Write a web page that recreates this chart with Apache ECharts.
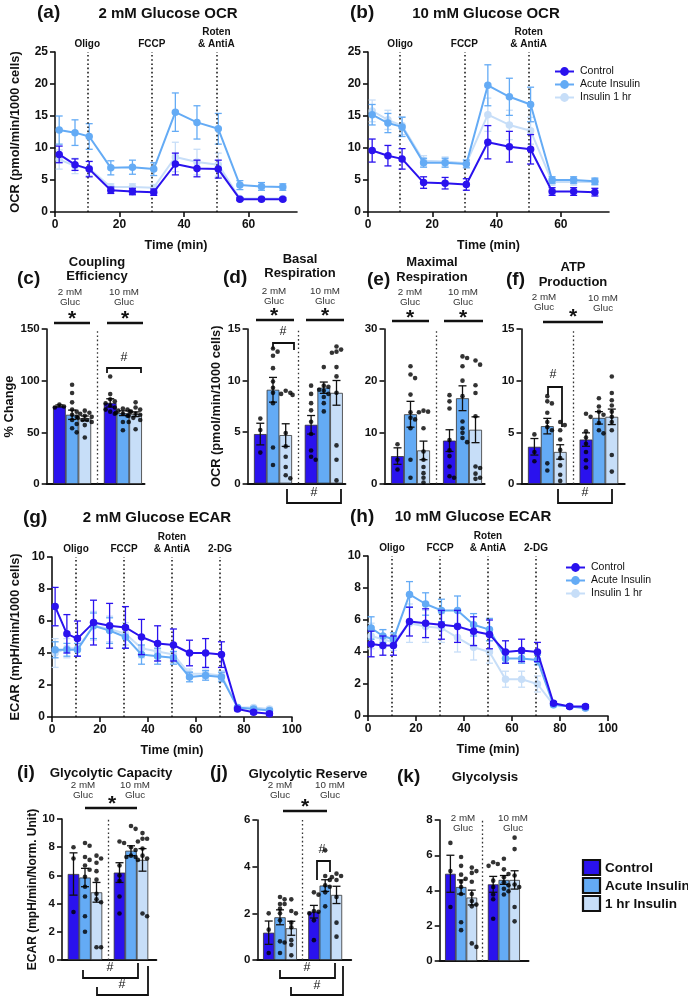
<!DOCTYPE html>
<html><head><meta charset="utf-8">
<script src="https://cdn.jsdelivr.net/npm/echarts@6/dist/echarts.min.js"></script>
<style>html,body{margin:0;padding:0;background:#fff}#c{width:688px;height:999px}</style>
</head><body><div id="c"></div>
<script>
// ================= DATA =================
const lineNames = ['Control', 'Acute Insulin', 'Insulin 1 hr'];
const barNames = ['Control', 'Acute Insulin', '1 hr Insulin'];
const glucLabels = ['2 mM\nGluc', '10 mM\nGluc'];
const timeOCR = [1.3, 6.2, 10.6, 17.3, 24, 30.6, 37.3, 44, 50.6, 57.3, 64, 70.6];
const timeECAR = [1.3, 6.2, 10.6, 17.3, 24, 30.6, 37.3, 44, 50.6, 57.3, 64, 70.6, 77.3, 84, 90.6];
const drugTimesOCR = [10, 30, 50];
const drugNamesOCR = ['Oligo', 'FCCP', 'Roten\n& AntiA'];
const drugTimesECAR = [10, 30, 50, 70];
const drugNamesECAR = ['Oligo', 'FCCP', 'Roten\n& AntiA', '2-DG'];
const ticksOCRTime = [0, 20, 40, 60];

// (a) 2 mM OCR
const ocr2Control = [9.0, 7.4, 6.7, 3.4, 3.2, 3.1, 7.5, 6.8, 6.7, 2.0, 2.0, 2.0];
const ocr2ControlErr = [1.3, 0.9, 1.2, 0.5, 0.5, 0.5, 1.7, 1.3, 1.4, 0.2, 0.2, 0.2];
const ocr2Acute = [12.8, 12.4, 11.8, 6.9, 7.0, 6.7, 15.6, 14.0, 13.0, 4.2, 4.0, 3.9];
const ocr2AcuteErr = [2.2, 2.0, 2.0, 1.1, 1.1, 1.0, 3.0, 2.6, 2.4, 0.7, 0.6, 0.5];
const ocr2Hr1 = [8.2, 7.2, 6.8, 3.9, 3.9, 3.8, 8.6, 7.8, 7.4, 2.1, 2.1, 2.1];
const ocr2Hr1Err = [1.5, 1.2, 1.1, 0.5, 0.5, 0.5, 2.3, 2.0, 1.8, 0.2, 0.2, 0.2];
// (b) 10 mM OCR
const ocr10Control = [9.6, 8.8, 8.3, 4.6, 4.5, 4.3, 10.9, 10.2, 9.8, 3.2, 3.2, 3.1];
const ocr10ControlErr = [1.8, 1.6, 1.6, 0.9, 0.9, 0.9, 2.6, 2.4, 2.3, 0.6, 0.6, 0.6];
const ocr10Acute = [15.2, 13.9, 13.3, 7.7, 7.7, 7.5, 19.8, 18.0, 16.8, 5.0, 5.0, 4.8];
const ocr10AcuteErr = [1.6, 1.5, 1.5, 0.7, 0.7, 0.6, 3.2, 2.9, 2.7, 0.5, 0.5, 0.5];
const ocr10Hr1 = [15.8, 14.4, 13.5, 8.0, 7.9, 7.6, 15.2, 13.6, 12.7, 4.7, 4.7, 4.7];
const ocr10Hr1Err = [1.7, 1.5, 1.4, 0.8, 0.7, 0.6, 2.6, 2.3, 2.1, 0.5, 0.5, 0.5];
// (g) 2 mM ECAR
const ecar2Control = [6.9, 5.2, 4.9, 5.9, 5.7, 5.6, 5.0, 4.6, 4.5, 4.0, 4.0, 3.9, 0.5, 0.3, 0.2];
const ecar2ControlErr = [1.2, 1.2, 1.1, 1.4, 1.4, 1.3, 1.1, 1.1, 1.0, 0.8, 0.9, 0.8, 0.1, 0.1, 0.1];
const ecar2Acute = [4.2, 4.2, 4.2, 5.7, 5.4, 5.0, 3.9, 3.8, 3.7, 2.5, 2.6, 2.5, 0.6, 0.5, 0.4];
const ecar2AcuteErr = [0.5, 0.4, 0.4, 0.8, 0.8, 0.7, 0.6, 0.5, 0.4, 0.3, 0.3, 0.3, 0.1, 0.1, 0.1];
const ecar2Hr1 = [4.0, 4.3, 4.3, 5.7, 5.5, 5.2, 4.3, 4.1, 3.9, 2.7, 2.7, 2.6, 0.6, 0.6, 0.5];
const ecar2Hr1Err = [0.9, 0.6, 0.5, 0.9, 0.8, 0.7, 0.6, 0.6, 0.5, 0.3, 0.3, 0.3, 0.1, 0.1, 0.1];
// (h) 10 mM ECAR
const ecar10Control = [4.5, 4.4, 4.4, 5.9, 5.8, 5.7, 5.6, 5.3, 5.1, 4.0, 4.1, 4.0, 0.8, 0.6, 0.6];
const ecar10ControlErr = [0.8, 0.6, 0.6, 0.9, 0.9, 0.9, 1.0, 0.9, 0.9, 0.7, 0.7, 0.6, 0.1, 0.1, 0.1];
const ecar10Acute = [5.5, 5.0, 4.8, 7.6, 7.0, 6.6, 6.6, 5.7, 5.4, 3.6, 3.6, 3.5, 0.7, 0.6, 0.5];
const ecar10AcuteErr = [0.7, 0.4, 0.4, 0.8, 0.7, 0.7, 0.9, 0.7, 0.7, 0.3, 0.3, 0.3, 0.1, 0.1, 0.1];
const ecar10Hr1 = [5.0, 4.8, 4.6, 5.8, 5.6, 5.5, 4.9, 4.3, 4.0, 2.3, 2.3, 2.0, 0.7, 0.6, 0.5];
const ecar10Hr1Err = [0.8, 0.6, 0.5, 1.2, 1.0, 0.9, 0.9, 0.8, 0.7, 0.5, 0.5, 0.5, 0.1, 0.1, 0.1];

// bar panels: order = 2mM Control, 2mM Acute, 2mM 1hr, 10mM Control, 10mM Acute, 10mM 1hr
const cMeans = [75.5, 67.0, 63.5, 78.5, 68.5, 67.5];
const cSem = [1.0, 4.5, 2.3, 4.0, 2.3, 2.3];
const cDots = [[77, 75, 74], [96, 88, 79, 72, 70, 67, 65, 62, 58, 54, 50], [71, 69, 68, 66, 65, 64, 62, 62, 60, 57, 45],
  [104, 87, 82, 80, 78, 76, 74, 72, 70, 68], [73, 72, 71, 70, 69, 68, 66, 60, 52], [79, 74, 72, 70, 68, 67, 66, 64, 62, 60, 53]];
const dMeans = [4.8, 9.1, 4.7, 5.7, 9.3, 8.8];
const dSem = [1.05, 1.2, 1.1, 0.9, 0.55, 1.2];
const dDots = [[6.3, 5.2, 3.0], [13.1, 12.8, 12.4, 11.2, 9.9, 9.3, 8.8, 7.8, 3.5, 1.8], [9.0, 8.8, 8.6, 8.7, 4.9, 3.6, 2.6, 1.6, 0.8, 0.5],
  [9.5, 8.7, 7.8, 7.1, 6.0, 4.8, 3.2, 2.6, 2.3], [11.3, 9.5, 9.4, 9.1, 9.0, 8.7, 8.4, 7.8, 7.0], [13.3, 13.0, 12.8, 12.7, 11.3, 10.4, 8.8, 3.7, 2.3, 0.3]];
const eMeans = [5.4, 13.5, 6.5, 8.4, 16.6, 10.5];
const eSem = [1.6, 2.5, 1.8, 2.1, 2.4, 2.5];
const eDots = [[7.7, 4.7, 2.8], [22.8, 21.2, 20.5, 17.3, 13.9, 12.8, 12.5, 10.8, 4.7, 1.2], [14.2, 13.9, 14.0, 10.8, 6.3, 4.7, 3.3, 2.1, 1.2, 0.3],
  [17.2, 16.0, 14.6, 8.5, 6.5, 5.4, 3.4, 1.5, 1.2], [24.7, 24.4, 22.8, 20.0, 17.0, 12.1, 10.8, 9.9, 8.9, 8.1], [23.9, 23.1, 19.1, 17.6, 13.1, 3.4, 3.1, 2.0, 1.0, 1.2]];
const fMeans = [3.6, 5.6, 3.1, 4.3, 6.4, 6.5];
const fSem = [0.8, 0.75, 0.7, 0.65, 0.6, 0.75];
const fDots = [[4.8, 3.1, 2.2], [8.5, 8.0, 7.8, 6.9, 6.0, 5.5, 5.2, 2.0, 1.3], [6.0, 5.7, 5.2, 4.3, 3.3, 2.5, 1.8, 0.9, 0.3],
  [6.8, 6.5, 5.1, 4.5, 3.9, 3.1, 2.3, 1.6], [8.3, 7.5, 7.0, 6.7, 5.9, 5.2, 4.9], [10.4, 8.8, 8.1, 7.6, 7.0, 6.5, 6.0, 5.2, 2.8, 1.2]];
const iMeans = [6.1, 5.85, 4.8, 6.2, 7.75, 7.1];
const iSem = [1.5, 0.65, 0.7, 0.7, 0.35, 0.8];
const iDots = [[8.0, 7.2, 3.4], [8.3, 8.1, 7.3, 7.1, 6.7, 6.4, 5.9, 5.2, 4.5, 3.1, 2.0], [7.4, 7.2, 6.9, 6.3, 5.7, 4.7, 4.3, 4.1, 0.9, 0.9],
  [8.3, 8.4, 6.7, 6.0, 5.6, 4.5, 3.3], [9.5, 9.3, 8.0, 7.8, 7.4, 7.3, 7.3, 7.1], [9.0, 8.6, 8.6, 8.4, 7.9, 7.4, 7.2, 3.3, 3.1]];
const jMeans = [1.17, 1.83, 1.36, 2.07, 3.19, 2.79];
const jSem = [0.5, 0.32, 0.3, 0.27, 0.25, 0.37];
const jDots = [[2.0, 1.3, 0.3], [2.7, 2.6, 2.4, 2.4, 2.2, 2.0, 1.7, 0.8, 0.75, 0.3], [2.6, 2.1, 2.0, 1.6, 1.4, 0.85, 0.65, 0.2],
  [2.8, 2.9, 2.1, 2.07, 2.0, 1.7, 0.85], [4.7, 3.6, 3.43, 3.2, 3.14, 2.9, 2.3], [3.7, 3.6, 3.55, 3.43, 2.7, 1.6, 1.0]];
const kMeans = [4.95, 4.2, 3.6, 4.35, 4.6, 4.6];
const kSem = [1.05, 0.4, 0.42, 0.45, 0.25, 0.52];
const kDots = [[6.7, 5.1, 3.06], [5.9, 5.4, 4.9, 4.66, 4.5, 4.2, 3.8, 2.2, 1.75], [5.3, 5.1, 5.0, 4.5, 3.8, 3.4, 3.2, 3.1, 1.0, 0.8],
  [5.6, 5.4, 5.5, 4.56, 4.2, 3.77, 3.5, 2.4], [5.8, 5.2, 4.94, 4.75, 4.47, 4.3, 4.1, 3.96, 3.77], [7.0, 6.35, 4.85, 4.34, 4.2, 3.06, 2.25]];

// ================= STYLE / LAYOUT =================
const fam = '"Liberation Sans", Arial, Helvetica, sans-serif';
const colors = ['#2a12ee', '#64abf5', '#c7def8'];
const INK = '#111';
const barSlots = [0, 1, 2, 4, 5, 6];

const grids = [], xAxes = [], yAxes = [], series = [];

function errRenderer(cap, color, lw) {
  return function (params, api) {
    const x = api.value(0), lo = api.value(1), hi = api.value(2);
    const p1 = api.coord([x, hi]), p2 = api.coord([x, lo]);
    const h = cap / 2, st = { stroke: color, lineWidth: lw };
    return { type: 'group', children: [
      { type: 'line', shape: { x1: p1[0], y1: p1[1], x2: p2[0], y2: p2[1] }, style: st },
      { type: 'line', shape: { x1: p1[0] - h, y1: p1[1], x2: p1[0] + h, y2: p1[1] }, style: st },
      { type: 'line', shape: { x1: p2[0] - h, y1: p2[1], x2: p2[0] + h, y2: p2[1] }, style: st }
    ]};
  };
}
function axisBase(fs) {
  return {
    axisLine: { show: true, onZero: false, lineStyle: { color: INK, width: 1.6 } },
    axisTick: { show: true, length: 5, lineStyle: { color: INK, width: 1.6 } },
    axisLabel: { color: INK, fontWeight: 'bold', fontSize: fs, fontFamily: fam, margin: 7 },
    splitLine: { show: false }
  };
}
const nameStyle = (fs) => ({ color: INK, fontWeight: 'bold', fontSize: fs, fontFamily: fam });

function addLinePanel(L, times, vals, errs, drugT, drugL, xmax, xticks, ymax, yint, yname) {
  const gi = grids.length;
  grids.push({ left: L.left, top: L.top, width: L.width, height: L.height, containLabel: false, outerBoundsMode: 'none' });
  const xa = Object.assign(axisBase(12), { type: 'value', gridIndex: gi, min: 0, max: xmax, interval: 20,
    name: 'Time (min)', nameLocation: 'middle', nameGap: 27, nameTextStyle: nameStyle(12.5) });
  if (xticks) {
    xa.axisLabel.customValues = xticks; xa.axisTick.customValues = xticks;
    xa.axisLabel.formatter = v => (xticks.indexOf(v) >= 0 ? String(v) : '');
  }
  xAxes.push(xa);
  yAxes.push(Object.assign(axisBase(12), { type: 'value', gridIndex: gi, min: 0, max: ymax, interval: yint,
    name: yname || '', nameLocation: 'middle', nameRotate: 90, nameGap: L.nameGap || 30, nameTextStyle: nameStyle(12.8) }));
  const order = [2, 1, 0];
  order.forEach((k, oi) => {
    const s = {
      type: 'line', name: lineNames[k], xAxisIndex: gi, yAxisIndex: gi,
      data: times.map((t, i) => [t, vals[k][i]]),
      symbol: 'circle', symbolSize: 7.5, showSymbol: true,
      lineStyle: { color: colors[k], width: 2 }, itemStyle: { color: colors[k] },
      z: 3 + oi * 2, silent: true
    };
    if (k === 0) {
      s.markLine = { silent: true, symbol: ['none', 'none'], animation: false,
        lineStyle: { type: [1.6, 2.6], width: 1.5, color: INK },
        label: { show: true, position: 'end', distance: 2, color: INK, fontWeight: 'bold', fontSize: 10, fontFamily: fam, lineHeight: 12 },
        emphasis: { disabled: true },
        data: drugT.map((t, i) => ({ xAxis: t, label: { formatter: drugL[i] } })) };
    }
    series.push(s);
    series.push({ type: 'custom', name: lineNames[k], xAxisIndex: gi, yAxisIndex: gi, silent: true,
      renderItem: errRenderer(7, colors[k], 1.3), encode: { x: 0, y: [1, 2] },
      data: times.map((t, i) => [t, vals[k][i] - errs[k][i], vals[k][i] + errs[k][i]]), z: 2 + oi * 2 });
  });
}

function swarm(values, unit, pxPerVal) {
  const cands = [0, 4.6, -4.6, 2.3, -2.3, 6.9, -6.9, 9.2, -9.2, 1.2, -1.2, 3.4, -3.4, 5.8, -5.8];
  const placed = [];
  const lim = unit * 0.72;
  values.slice().sort((a, b) => b - a).forEach(v => {
    const py = v * pxPerVal;
    let best = null, bestC = 1e9;
    for (const off of cands) {
      if (Math.abs(off) > lim) continue;
      let c = 0;
      for (const q of placed) {
        const dx = Math.abs(q.x - off), dy = Math.abs(q.y - py);
        if (dx < 4.6 && dy < 4.6) c += (4.6 - dx) + (4.6 - dy);
      }
      if (c === 0) { best = off; bestC = 0; break; }
      if (c < bestC) { bestC = c; best = off; }
    }
    placed.push({ x: best, y: py, v });
  });
  return placed.map(p => [p.x / unit, p.v]);
}

function addBarPanel(L, means, sems, dots, yname) {
  const gi = grids.length;
  const width = L.unit * (L.xmax + 1);
  grids.push({ left: L.left, top: L.top, width: width, height: L.height, containLabel: false, outerBoundsMode: 'none' });
  xAxes.push({ type: 'value', gridIndex: gi, min: -1, max: L.xmax,
    axisLine: { show: true, onZero: false, lineStyle: { color: INK, width: 2 } },
    axisTick: { show: false }, axisLabel: { show: false }, splitLine: { show: false } });
  yAxes.push(Object.assign(axisBase(11.5), { type: 'value', gridIndex: gi, min: 0, max: L.ymax, interval: L.yint,
    name: yname || '', nameLocation: 'middle', nameRotate: 90, nameGap: L.nameGap || 30, nameTextStyle: nameStyle(L.nameSize || 12.8) }));
  series.push({ type: 'bar', name: 'bars' + gi, xAxisIndex: gi, yAxisIndex: gi, barWidth: L.unit, silent: true,
    data: means.map((m, i) => ({ value: [barSlots[i], m], itemStyle: { color: colors[i % 3] } })),
    itemStyle: { borderColor: '#333', borderWidth: 0.8 }, z: 2,
    markLine: { silent: true, symbol: ['none', 'none'], animation: false, label: { show: false },
      lineStyle: { type: [1.6, 2.6], width: 1.3, color: '#333' }, emphasis: { disabled: true },
      data: [{ xAxis: 3 }] } });
  series.push({ type: 'custom', name: 'err' + gi, xAxisIndex: gi, yAxisIndex: gi, silent: true,
    renderItem: errRenderer(8, INK, 1.3), encode: { x: 0, y: [1, 2] },
    data: means.map((m, i) => [barSlots[i], m - sems[i], m + sems[i]]), z: 3 });
  const pts = [];
  const ppv = L.height / L.ymax;
  dots.forEach((arr, i) => swarm(arr, L.unit, ppv).forEach(p => pts.push([barSlots[i] + p[0], p[1]])));
  series.push({ type: 'scatter', name: 'dots' + gi, xAxisIndex: gi, yAxisIndex: gi, silent: true,
    symbolSize: 4.6, itemStyle: { color: '#000' }, data: pts, z: 4 });
}

// line panels
addLinePanel({ left: 55, top: 52, width: 242, height: 160, nameGap: 33 }, timeOCR,
  [ocr2Control, ocr2Acute, ocr2Hr1], [ocr2ControlErr, ocr2AcuteErr, ocr2Hr1Err],
  drugTimesOCR, drugNamesOCR, 75, ticksOCRTime, 25, 5, 'OCR (pmol/min/1000 cells)');
addLinePanel({ left: 368, top: 52, width: 241, height: 160 }, timeOCR,
  [ocr10Control, ocr10Acute, ocr10Hr1], [ocr10ControlErr, ocr10AcuteErr, ocr10Hr1Err],
  drugTimesOCR, drugNamesOCR, 75, ticksOCRTime, 25, 5, '');
// bar panels c-f
addBarPanel({ left: 46.7, top: 329, height: 155, unit: 12.7, xmax: 6.7, ymax: 150, yint: 50, nameGap: 31 }, cMeans, cSem, cDots, '% Change');
addBarPanel({ left: 247.6, top: 329, height: 154.5, unit: 12.7, xmax: 6.7, ymax: 15, yint: 5, nameGap: 25 }, dMeans, dSem, dDots, 'OCR (pmol/min/1000 cells)');
addBarPanel({ left: 384.5, top: 329, height: 155, unit: 13, xmax: 6.7, ymax: 30, yint: 10 }, eMeans, eSem, eDots, '');
addBarPanel({ left: 521.5, top: 329, height: 155, unit: 12.9, xmax: 7.0, ymax: 15, yint: 5 }, fMeans, fSem, fDots, '');
// line panels g-h
addLinePanel({ left: 52, top: 557, width: 240, height: 160, nameGap: 30 }, timeECAR,
  [ecar2Control, ecar2Acute, ecar2Hr1], [ecar2ControlErr, ecar2AcuteErr, ecar2Hr1Err],
  drugTimesECAR, drugNamesECAR, 100, null, 10, 2, 'ECAR (mpH/min/1000 cells)');
addLinePanel({ left: 368, top: 556, width: 240, height: 160 }, timeECAR,
  [ecar10Control, ecar10Acute, ecar10Hr1], [ecar10ControlErr, ecar10AcuteErr, ecar10Hr1Err],
  drugTimesECAR, drugNamesECAR, 100, null, 10, 2, '');
// bar panels i-k
addBarPanel({ left: 62, top: 819, height: 141, unit: 11.5, xmax: 7.2, ymax: 10, yint: 2, nameGap: 22, nameSize: 12 }, iMeans, iSem, iDots, 'ECAR (mpH/min/Norm. Unit)');
addBarPanel({ left: 257.4, top: 820, height: 140, unit: 11.3, xmax: 7.3, ymax: 6, yint: 2 }, jMeans, jSem, jDots, '');
addBarPanel({ left: 439.7, top: 820, height: 141, unit: 10.7, xmax: 7.3, ymax: 8, yint: 2 }, kMeans, kSem, kDots, '');

// ================= ANNOTATIONS (pixel layout) =================
const G = [];
function T(text, x, y, size, weight, align, color) {
  G.push({ type: 'text', x: x, y: y, silent: true, z: 50,
    style: { text: text, font: (weight || 'bold') + ' ' + size + 'px ' + fam, textAlign: align || 'center', textVerticalAlign: 'middle', fill: color || INK } });
}
function P(points, lw) {
  G.push({ type: 'polyline', silent: true, z: 50, shape: { points: points }, style: { stroke: INK, lineWidth: lw || 1.8, fill: null } });
}
// panel letters and titles
[['(a)', 37, 13], ['(b)', 350, 13], ['(c)', 17, 279], ['(d)', 223, 278], ['(e)', 367, 280], ['(f)', 506, 280],
 ['(g)', 23, 518], ['(h)', 350, 517], ['(i)', 17, 773], ['(j)', 210, 773], ['(k)', 397, 777]]
  .forEach(a => T(a[0], a[1], a[2], 19, 'bold', 'left'));
T('2 mM Glucose OCR', 168, 14, 15); T('10 mM Glucose OCR', 486, 14, 15);
T('2 mM Glucose ECAR', 157, 518, 15); T('10 mM Glucose ECAR', 473, 517, 15);
T('Coupling', 97, 262, 13); T('Efficiency', 97, 276, 13);
T('Basal', 300, 259, 13); T('Respiration', 300, 273, 13);
T('Maximal', 432, 262, 13); T('Respiration', 432, 277, 13);
T('ATP', 573, 267, 13); T('Production', 573, 282, 13);
T('Glycolytic Capacity', 111, 773, 13.3); T('Glycolytic Reserve', 308, 774, 13.3); T('Glycolysis', 485, 777, 13.3);
// glucose labels
[[70, 292, 0], [124, 292, 1], [274, 291, 0], [325, 291, 1], [410, 292, 0], [463, 292, 1], [544, 297, 0], [603, 298, 1],
 [83, 785, 0], [135, 785, 1], [280, 785, 0], [330, 785, 1], [463, 818, 0], [513, 818, 1]]
  .forEach(g => { const parts = glucLabels[g[2]].split('\n'); T(parts[0], g[0], g[1], 9.8, 'normal', 'center', '#333'); T(parts[1], g[0], g[1] + 9.8, 9.8, 'normal', 'center', '#333'); });
// significance stars with lines
[[72, 314], [125, 314], [274, 311], [325, 311], [410, 313], [463, 313], [573, 312], [112, 799], [305, 802]]
  .forEach(s => T('*', s[0], s[1] + 5, 21, 'bold'));
[[54, 90, 323], [107, 143, 323], [256, 294, 320], [306, 344, 320], [392, 429, 321], [444, 483, 321], [543, 603, 322], [85, 137, 808], [283, 327, 811]]
  .forEach(l => P([[l[0], l[2]], [l[1], l[2]]], 2.6));
// hash marks and brackets
[[124, 358], [283, 332], [553, 375], [314, 493], [585, 493], [110, 968], [122, 985], [322, 850], [307, 968], [317, 986]]
  .forEach(h => T('#', h[0], h[1], 12.5, 'normal'));
P([[107, 373], [107, 368], [141, 368], [141, 373]]);
P([[273, 349], [273, 343], [294, 343], [294, 350]]);
P([[548, 395], [548, 387], [562, 387], [562, 427]]);
P([[287, 489], [287, 503], [341, 503], [341, 489]]);
P([[558, 489], [558, 503], [612, 503], [612, 489]]);
P([[83, 970], [83, 978], [138, 978], [138, 963]]);
P([[97, 987], [97, 995], [148, 995], [148, 966]]);
P([[317, 880], [317, 861], [330, 861], [330, 872]]);
P([[280, 970], [280, 978], [335, 978], [335, 963]]);
P([[291, 987], [291, 995], [343, 995], [343, 966]]);
// bottom-right legend
barNames.forEach((n, i) => {
  G.push({ type: 'rect', silent: true, z: 50, shape: { x: 583, y: 860 + i * 18, width: 17, height: 15 }, style: { fill: colors[i], stroke: INK, lineWidth: 2.2 } });
  T(n, 605, 868 + i * 18, 13.5, 'bold', 'left');
});

const chart = echarts.init(document.getElementById('c'), null, { renderer: 'canvas', width: 688, height: 999 });
chart.setOption({
  animation: false,
  backgroundColor: '#fff',
  textStyle: { fontFamily: fam },
  grid: grids, xAxis: xAxes, yAxis: yAxes, series: series,
  legend: [
    { data: lineNames, orient: 'vertical', left: 549, top: 61, itemWidth: 19, itemHeight: 11, itemGap: 2, selectedMode: false,
      textStyle: { fontSize: 10.5, color: INK, fontFamily: fam, padding: [0, 0, 0, 1] } },
    { data: lineNames, orient: 'vertical', left: 560, top: 557, itemWidth: 19, itemHeight: 11, itemGap: 2, selectedMode: false,
      textStyle: { fontSize: 10.5, color: INK, fontFamily: fam, padding: [0, 0, 0, 1] } }
  ],
  graphic: { elements: G }
});
</script></body></html>
